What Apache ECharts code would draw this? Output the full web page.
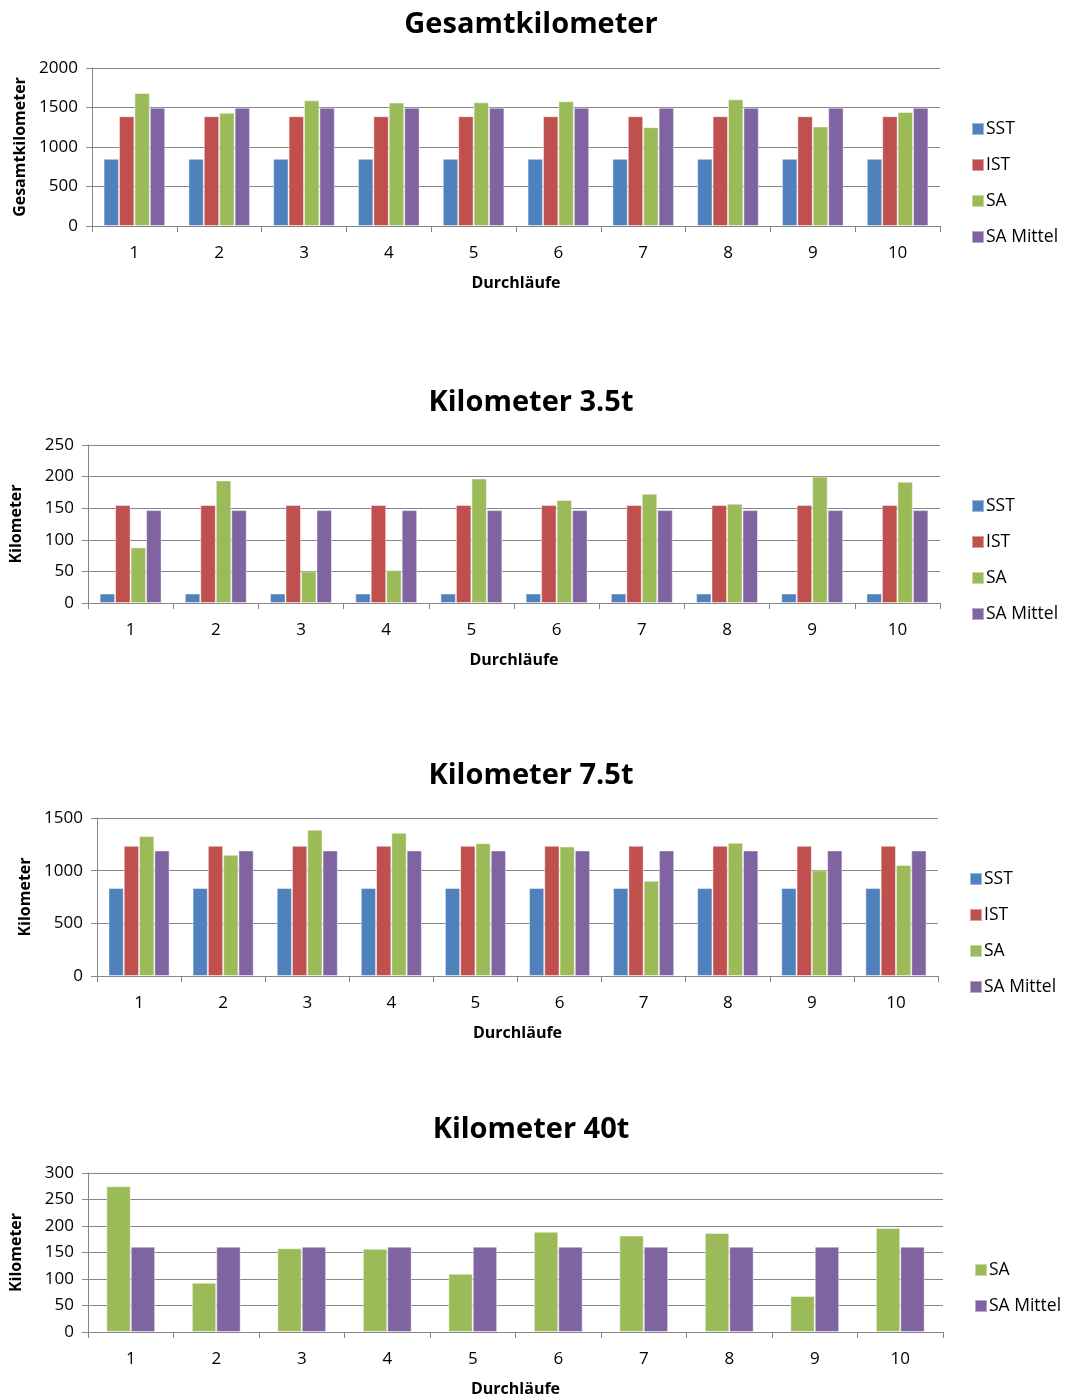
<!DOCTYPE html>
<html>
<head>
<meta charset="utf-8">
<script src="https://cdn.jsdelivr.net/npm/echarts@6/dist/echarts.min.js"></script>
<style>
  html, body { margin: 0; padding: 0; background: #fff; }
  #chart { width: 1070px; height: 1400px; }
</style>
</head>
<body>
<div id="chart"></div>
<script>
// Durchläufe 1..10
const runs = ['1', '2', '3', '4', '5', '6', '7', '8', '9', '10'];

// Gesamtkilometer
const totalSST    = [850, 850, 850, 850, 850, 850, 850, 850, 850, 850];
const totalIST    = [1390, 1390, 1390, 1390, 1390, 1390, 1390, 1390, 1390, 1390];
const totalSA     = [1685, 1434, 1591, 1562, 1566, 1579, 1251, 1604, 1260, 1443];
const totalMittel = [1498, 1498, 1498, 1498, 1498, 1498, 1498, 1498, 1498, 1498];

// Kilometer 3.5t
const km35SST    = [15, 15, 15, 15, 15, 15, 15, 15, 15, 15];
const km35IST    = [155, 155, 155, 155, 155, 155, 155, 155, 155, 155];
const km35SA     = [88, 194, 50, 52, 197, 163, 173, 157, 200, 192];
const km35Mittel = [147, 147, 147, 147, 147, 147, 147, 147, 147, 147];

// Kilometer 7.5t
const km75SST    = [835, 835, 835, 835, 835, 835, 835, 835, 835, 835];
const km75IST    = [1236, 1236, 1236, 1236, 1236, 1236, 1236, 1236, 1236, 1236];
const km75SA     = [1328, 1150, 1389, 1360, 1261, 1229, 904, 1264, 1003, 1054];
const km75Mittel = [1192, 1192, 1192, 1192, 1192, 1192, 1192, 1192, 1192, 1192];

// Kilometer 40t
const km40SA     = [275, 93, 158, 157, 110, 189, 182, 187, 68, 196];
const km40Mittel = [161, 161, 161, 161, 161, 161, 161, 161, 161, 161];

// value axis ranges: [min, max, interval]
const yRange1 = [0, 2000, 500];
const yRange2 = [0, 250, 50];
const yRange3 = [0, 1500, 500];
const yRange4 = [0, 300, 50];

const COLORS = { 'SST': '#4F81BD', 'IST': '#C0504D', 'SA': '#9BBB59', 'SA Mittel': '#8064A2' };
const FONT = '"Open Sans", "Noto Sans", sans-serif';
const AXIS_GRAY = '#868686';

const panels = [
  { title: 'Gesamtkilometer', titleTop: 5, yName: 'Gesamtkilometer', range: yRange1,
    grid: { left: 92, top: 68, width: 848, height: 158 }, legendLeft: 966, legendTop: 115,
    series: [['SST', totalSST], ['IST', totalIST], ['SA', totalSA], ['SA Mittel', totalMittel]] },
  { title: 'Kilometer 3.5t', titleTop: 383, yName: 'Kilometer', range: yRange2,
    grid: { left: 84, top: 445, width: 856, height: 158 }, legendLeft: 966, legendTop: 492,
    series: [['SST', km35SST], ['IST', km35IST], ['SA', km35SA], ['SA Mittel', km35Mittel]] },
  { title: 'Kilometer 7.5t', titleTop: 756, yName: 'Kilometer', range: yRange3,
    grid: { left: 97, top: 818, width: 841, height: 158 }, legendLeft: 964, legendTop: 865,
    series: [['SST', km75SST], ['IST', km75IST], ['SA', km75SA], ['SA Mittel', km75Mittel]] },
  { title: 'Kilometer 40t', titleTop: 1110, yName: 'Kilometer', range: yRange4,
    grid: { left: 83, top: 1173, width: 860, height: 159 }, legendLeft: 969, legendTop: 1256,
    series: [['SA', km40SA], ['SA Mittel', km40Mittel]] }
];

const option = {
  animation: false,
  backgroundColor: '#fff',
  title: [], grid: [], xAxis: [], yAxis: [], legend: [], series: []
};

panels.forEach((p, i) => {
  option.title.push({
    text: p.title, left: 526, top: p.titleTop, textAlign: 'center',
    textStyle: { fontFamily: FONT, fontWeight: 'bold', fontSize: 29, color: '#000' }
  });
  option.grid.push(Object.assign({ containLabel: false }, p.grid));
  option.xAxis.push({
    type: 'category', gridIndex: i, data: runs,
    name: 'Durchläufe', nameLocation: 'middle', nameGap: 49,
    nameTextStyle: { fontFamily: FONT, fontWeight: 'bold', fontSize: 16, color: '#000' },
    axisLine: { show: true, lineStyle: { color: AXIS_GRAY, width: 1 } },
    axisTick: { show: true, length: 6, inside: false, lineStyle: { color: AXIS_GRAY } },
    axisLabel: { fontFamily: FONT, fontSize: 17, color: '#000', margin: 19 },
    splitLine: { show: false }
  });
  option.yAxis.push({
    type: 'value', gridIndex: i,
    min: p.range[0], max: p.range[1], interval: p.range[2],
    name: p.yName, nameLocation: 'middle', nameGap: 64, nameRotate: 90,
    nameTextStyle: { fontFamily: FONT, fontWeight: 'bold', fontSize: 16, color: '#000' },
    axisLine: { show: true, lineStyle: { color: AXIS_GRAY, width: 1 } },
    axisTick: { show: true, length: 6, lineStyle: { color: AXIS_GRAY } },
    axisLabel: { fontFamily: FONT, fontSize: 17, color: '#000', margin: 14,
                 formatter: v => String(v) },
    splitLine: { show: true, lineStyle: { color: AXIS_GRAY, width: 1 } }
  });
  option.legend.push({
    orient: 'vertical', left: p.legendLeft, top: p.legendTop,
    itemWidth: 12, itemHeight: 12, itemGap: 18,
    icon: 'rect',
    data: p.series.map(s => s[0]),
    textStyle: { fontFamily: FONT, fontSize: 17.5, color: '#000', padding: [0, 0, 0, -3] }
  });
  const gap = p.series.length === 4 ? '27.3%' : '42.9%';
  p.series.forEach(([name, values]) => {
    option.series.push({
      type: 'bar', name, xAxisIndex: i, yAxisIndex: i, data: values,
      barGap: '0%', barCategoryGap: gap,
      itemStyle: { color: COLORS[name], borderColor: 'rgba(255,255,255,0.45)', borderWidth: 1 }
    });
  });
});

const chart = echarts.init(document.getElementById('chart'), null, { renderer: 'canvas' });
chart.setOption(option);
</script>
</body>
</html>
